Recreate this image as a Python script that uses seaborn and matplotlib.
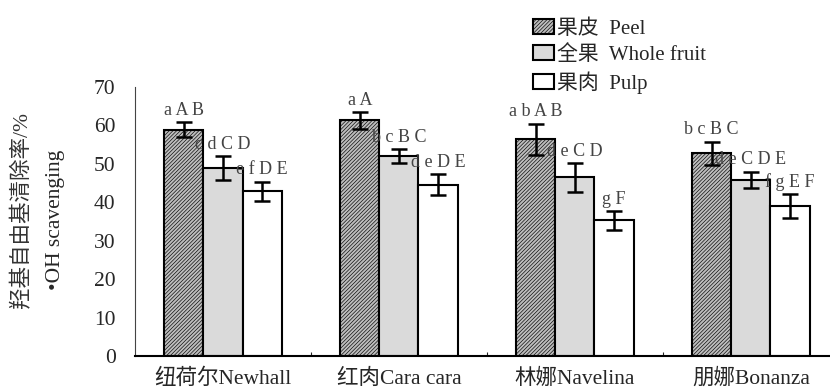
import pandas as pd
import numpy as np
import matplotlib
matplotlib.use('Agg')
import matplotlib.pyplot as plt
import seaborn as sns
from matplotlib.patches import Patch

cultivars = ['纽荷尔Newhall', '红肉Cara cara', '林娜Navelina', '朋娜Bonanza']
parts = ['果皮  Peel', '全果  Whole fruit', '果肉  Pulp']

peel = [58.9, 61.3, 56.4, 52.7]
whole = [49.0, 52.1, 46.5, 45.8]
pulp = [42.9, 44.6, 35.3, 39.1]

peel_err = [2.0, 2.2, 4.1, 3.1]
whole_err = [3.1, 1.8, 3.7, 2.2]
pulp_err = [2.5, 2.7, 2.5, 3.1]

peel_sig = ['a A B', 'a A', 'a b A B', 'b c B C']
whole_sig = ['c d C D', 'b c B C', 'd e C D', 'd e C D E']
pulp_sig = ['e f D E', 'd e D E', 'g F', 'f g E F']

data = pd.DataFrame({
    'cultivar': cultivars * 3,
    'part': [parts[0]] * 4 + [parts[1]] * 4 + [parts[2]] * 4,
    'value': peel + whole + pulp,
})
errs = [peel_err, whole_err, pulp_err]
sigs = [peel_sig, whole_sig, pulp_sig]

sns.set_style('white')
plt.rcParams['font.family'] = ['Liberation Serif', 'Noto Sans CJK SC']
plt.rcParams['hatch.linewidth'] = 0.45

colors = ['#bdbdbd', '#dadada', '#ffffff']
hatches = ['/////////', '', '']

fig = plt.figure(figsize=(8.3, 3.91), dpi=100)
ax = fig.add_axes([135 / 830, 35 / 391, 695 / 830, 269 / 391])

sns.barplot(x='cultivar', y='value', hue='part', data=data, order=cultivars,
            hue_order=parts, palette=colors, width=0.667, errorbar=None,
            edgecolor='black', linewidth=1.5, saturation=1, legend=False, ax=ax)

bar_groups = list(ax.containers)
for i, cont in enumerate(bar_groups):
    for j, p in enumerate(cont.patches):
        p.set_hatch(hatches[i])
        cx = p.get_x() + p.get_width() / 2
        top = p.get_height()
        ax.errorbar(cx, top, yerr=errs[i][j], color='black', lw=1.8,
                    capsize=5.5, capthick=1.8)
        ax.text(cx, top + errs[i][j] + 0.8, sigs[i][j], ha='center', va='bottom',
                fontsize=13, color='#444444', family=['Liberation Serif'])

ax.set_xlim(-0.5, 3.45)
ax.set_ylim(0, 70)
ax.set_yticks(range(0, 71, 10))
ax.set_xticks([0.5, 1.5, 2.5], minor=True)
ax.set_xticks(range(4))
ax.set_xticklabels(cultivars)
ax.tick_params(axis='y', direction='in', length=6, width=0.8, labelsize=15.5, pad=14)
ax.tick_params(axis='x', which='major', length=0, labelsize=15.5, pad=9)
ax.tick_params(axis='x', which='minor', direction='in', length=3, width=0.8, bottom=True)
ax.set_xlabel('')
ax.set_ylabel('')
for s in ['top', 'right']:
    ax.spines[s].set_visible(False)
ax.spines['left'].set_color('#444444')
ax.spines['bottom'].set_linewidth(1.5)
ax.spines['bottom'].set_color('black')

fig.text(22 / 830, 1 - 210 / 391, '羟基自由基清除率/%', rotation=90, ha='center',
         va='center', fontsize=15.5, color='#333333')
fig.text(55 / 830, 1 - 220 / 391, '•OH scavenging', rotation=90, ha='center',
         va='center', fontsize=15.5)

handles = [Patch(facecolor=colors[k], edgecolor='black', linewidth=1.5, hatch=hatches[k])
           for k in range(3)]
fig.legend(handles, parts, loc='upper left', bbox_to_anchor=(533 / 830, 1 - 19 / 391),
           frameon=False, fontsize=15, handlelength=1.0, handleheight=0.7,
           handletextpad=0.15, labelspacing=0.3, borderpad=0, borderaxespad=0)

fig.savefig('out.png', dpi=100)
